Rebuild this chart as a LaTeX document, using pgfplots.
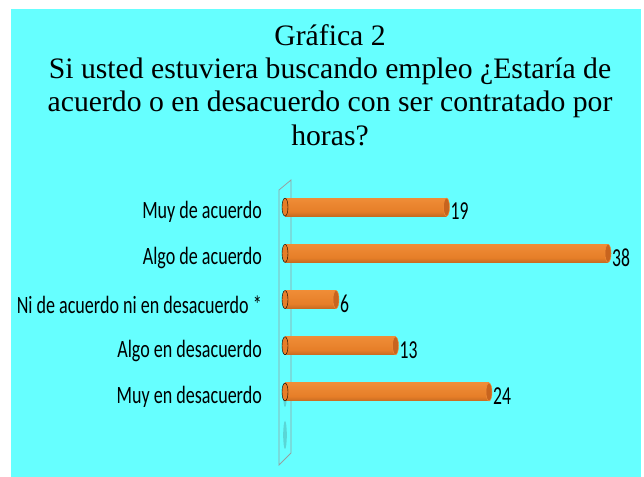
\documentclass[border=0pt]{standalone}
\usepackage{pgfplots}
\pgfplotsset{compat=1.18}
\usepackage{fontspec}
\setmainfont{Liberation Serif}
\newfontfamily\lab[FakeStretch=0.725]{Carlito}
\newfontfamily\val[FakeStretch=0.68]{Carlito}
\definecolor{bgc}{HTML}{66FFFF}
\definecolor{barlight}{RGB}{240,142,56}
\definecolor{barmid}{RGB}{230,126,40}
\definecolor{bardark}{RGB}{120,60,14}
\definecolor{capc}{RGB}{200,100,30}
\definecolor{wallc}{RGB}{150,160,160}
\pgfdeclareverticalshading{cyl}{100bp}{color(0bp)=(bardark); color(22bp)=(bardark!35!barmid); color(38bp)=(barmid); color(78bp)=(barlight); color(100bp)=(barmid)}
\pgfdeclareplotmark{capR}{%
  \pgfpathellipse{\pgfpointorigin}{\pgfpoint{3bp}{0pt}}{\pgfpoint{0pt}{9bp}}%
  \pgfusepathqfillstroke}
\pgfplotsset{cylbar/.style={xbar, bar width=18bp, bar shift=0pt, draw=none,
  shade, shading=cyl,
  nodes near coords={\val\fontsize{26}{26}\selectfont\pgfmathprintnumber[assume math mode=true]{\pgfplotspointmeta}},
  point meta=x,
  every node near coord/.append style={anchor=west, inner sep=0pt, xshift=4bp, yshift=-4bp, text=black}}}
\begin{document}
\begin{tikzpicture}[x=1bp,y=1bp]
\fill[white] (0,0) rectangle (644,477);
\fill[bgc] (11,0) rectangle (641,468);
\node[align=center, font=\fontsize{29.8}{33.5}\selectfont] at (330,392)
  {Gráfica 2\\Si usted estuviera buscando empleo ¿Estaría de\\acuerdo o en desacuerdo con ser contratado por\\horas?};
\fill[teal!70, opacity=0.45] (285,82) ellipse (1.8 and 12);
\fill[teal!70, opacity=0.45] (285,42) ellipse (1.8 and 14);
\draw[wallc, line width=0.8bp] (279,12) -- (291,24) -- (291,297) -- (279,287) -- cycle;
\begin{axis}[
  at={(285bp,12bp)}, anchor=south west,
  scale only axis, width=340bp, height=287bp,
  xmin=0, xmax=40, ymin=-0.63, ymax=5.58, y dir=reverse,
  hide x axis,
  axis y line*=left, y axis line style={draw=none},
  major tick length=0pt,
  ytick={0,1,2,3,4},
  yticklabels={Muy de acuerdo, Algo de acuerdo, Ni de acuerdo ni en desacuerdo *, Algo en desacuerdo, Muy en desacuerdo},
  yticklabel style={font=\lab\fontsize{25}{25}\selectfont, anchor=east, inner sep=0pt, xshift=-23bp, yshift=-5bp},
  clip=false,
]
\addplot[only marks, mark=capR, mark options={fill=barmid, draw=none}] coordinates {(0,0) (0,1) (0,2) (0,3) (0,4)};
\addplot[cylbar] coordinates {(19,0)};
\addplot[cylbar] coordinates {(38,1)};
\addplot[cylbar] coordinates {(6,2)};
\addplot[cylbar] coordinates {(13,3)};
\addplot[cylbar] coordinates {(24,4)};
\addplot[only marks, mark=capR, mark options={fill=capc, draw=barlight, line width=0.5bp}] coordinates {(19,0) (38,1) (6,2) (13,3) (24,4)};
\end{axis}
\end{tikzpicture}
\end{document}
